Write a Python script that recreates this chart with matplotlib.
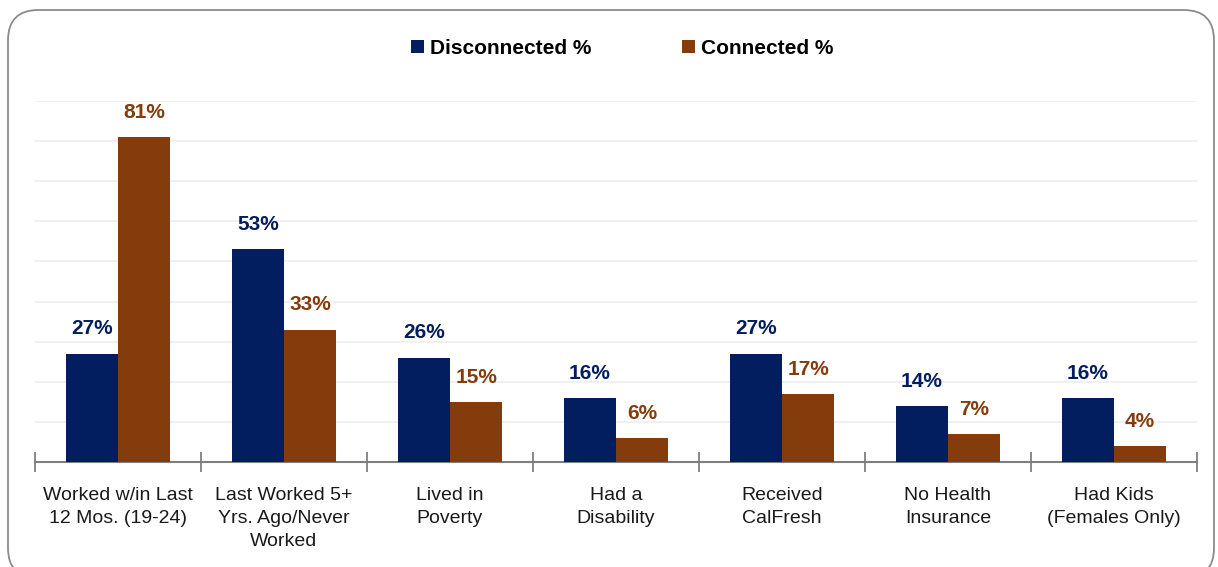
import matplotlib
matplotlib.use("Agg")
import matplotlib.pyplot as plt
import numpy as np
from matplotlib.patches import FancyBboxPatch
from matplotlib import font_manager

categories = ["Worked w/in Last\n12 Mos. (19-24)",
              "Last Worked 5+\nYrs. Ago/Never\nWorked",
              "Lived in\nPoverty",
              "Had a\nDisability",
              "Received\nCalFresh",
              "No Health\nInsurance",
              "Had Kids\n(Females Only)"]
disconnected = [27, 53, 26, 16, 27, 14, 16]
connected = [81, 33, 15, 6, 17, 7, 4]
series_names = ["Disconnected %", "Connected %"]

navy = "#021E5E"
brown = "#843C0C"

names = {f.name for f in font_manager.fontManager.ttflist}
fam = ["Liberation Sans Narrow", "Liberation Sans", "DejaVu Sans"]
fam = [f for f in fam if f in names] or ["DejaVu Sans"]
plt.rcParams['font.family'] = fam

fig = plt.figure(figsize=(12.18, 5.67), dpi=100)
ax = fig.add_axes([35/1218, 1-462/567, (1197-35)/1218, (462-101)/567])

# rounded border
border = FancyBboxPatch((8/1218, -0.02), (1214-8)/1218, 1-10/567+0.02,
                        boxstyle="round,pad=0,rounding_size=0.025",
                        transform=fig.transFigure, fill=False,
                        edgecolor="#8c8c8c", linewidth=1.3, mutation_aspect=1218/567)
fig.patches.append(border)

x = np.arange(len(categories))
w = 0.315
b1 = ax.bar(x - w/2, disconnected, w, color=navy, label=series_names[0], zorder=3)
b2 = ax.bar(x + w/2, connected, w, color=brown, label=series_names[1], zorder=3)

for rect, v in zip(b1, disconnected):
    ax.annotate(f"{v}%", (rect.get_x() + rect.get_width()/2, v), xytext=(0, 11),
                textcoords="offset points", ha="center", va="bottom",
                color=navy, fontsize=15, fontweight="bold")
for rect, v in zip(b2, connected):
    ax.annotate(f"{v}%", (rect.get_x() + rect.get_width()/2, v), xytext=(0, 11),
                textcoords="offset points", ha="center", va="bottom",
                color=brown, fontsize=15, fontweight="bold")

ax.set_xlim(-0.5, len(categories) - 0.5)
ax.set_ylim(0, 90)
ax.set_yticks(np.arange(10, 91, 10))
ax.yaxis.grid(True, color="#ededed", linewidth=1.2, zorder=0)
ax.tick_params(axis="y", left=False, labelleft=False)
for s in ["top", "right", "left"]:
    ax.spines[s].set_visible(False)
ax.spines["bottom"].set_color("#7f7f7f")
ax.spines["bottom"].set_linewidth(1.5)

ax.set_xticks(np.arange(-0.5, len(categories), 1))
ax.set_xticklabels([])
ax.tick_params(axis="x", direction="inout", length=14, width=1.3, color="#7f7f7f")
ax.set_xticks(x, minor=True)
ax.set_xticklabels(categories, minor=True, fontsize=14, color="#1a1a1a", linespacing=1.45)
ax.tick_params(axis="x", which="minor", length=0, pad=18)

leg = fig.legend(loc="upper center", bbox_to_anchor=(0.511, 0.965), ncol=2, frameon=False,
                 prop={"size": 15, "weight": "bold"}, handlelength=0.6, handleheight=0.6,
                 handletextpad=0.3, columnspacing=4.35)

fig.savefig("out.png", dpi=100)
